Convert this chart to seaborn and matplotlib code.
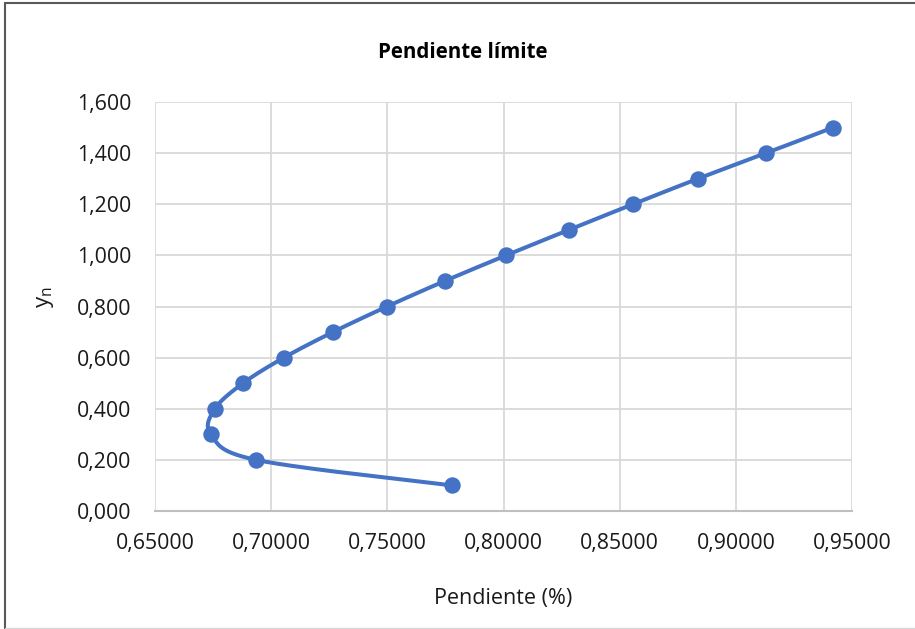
import matplotlib
matplotlib.use("Agg")
import matplotlib.pyplot as plt
import matplotlib.ticker as mticker
from matplotlib.lines import Line2D
import numpy as np
import pandas as pd
import seaborn as sns

# data
yn = [0.1, 0.2, 0.3, 0.4, 0.5, 0.6, 0.7, 0.8, 0.9, 1.0, 1.1, 1.2, 1.3, 1.4, 1.5]
pendiente = [0.7778, 0.6935, 0.6741, 0.6758, 0.6879, 0.7055, 0.7266, 0.7499,
             0.7748, 0.8011, 0.8282, 0.8557, 0.8837, 0.9130, 0.9418]

x_ticks = [0.65, 0.70, 0.75, 0.80, 0.85, 0.90, 0.95]
y_ticks = [0.0, 0.2, 0.4, 0.6, 0.8, 1.0, 1.2, 1.4, 1.6]

BLUE = "#4472C4"

sns.set_theme(style="white")
plt.rcParams["font.family"] = ["Open Sans", "DejaVu Sans"]
plt.rcParams["mathtext.fontset"] = "custom"
plt.rcParams["mathtext.rm"] = "Open Sans"


def excel_smooth(x, y, sx, sy, n=30):
    # Bezier smoothing like Excel's "smoothed line", done in pixel space
    px = np.asarray(x) * sx
    py = np.asarray(y) * sy
    pts = np.column_stack([px, py])
    ext = np.vstack([pts[0], pts, pts[-1]])
    out = []
    t = np.linspace(0, 1, n)[:, None]
    for i in range(len(pts) - 1):
        p0, p1, p2, p3 = ext[i], ext[i + 1], ext[i + 2], ext[i + 3]
        c1 = p1 + (p2 - p0) / 6
        c2 = p2 - (p3 - p1) / 6
        seg = ((1 - t) ** 3) * p1 + 3 * ((1 - t) ** 2) * t * c1 + 3 * (1 - t) * t ** 2 * c2 + t ** 3 * p2
        out.append(seg if i == 0 else seg[1:])
    out = np.vstack(out)
    return out[:, 0] / sx, out[:, 1] / sy


fig = plt.figure(figsize=(9.15, 6.29), dpi=100)
ax = fig.add_axes([155 / 915, 1 - 511 / 629, 697 / 915, 409 / 629])

sx = 697 / 0.30
sy = 409 / 1.6
cx, cy = excel_smooth(pendiente, yn, sx, sy)
curve = pd.DataFrame({"x": cx, "y": cy})
pts = pd.DataFrame({"Pendiente": pendiente, "yn": yn})

sns.lineplot(data=curve, x="x", y="y", sort=False, estimator=None, ax=ax,
             color=BLUE, linewidth=2.9, zorder=3)
sns.scatterplot(data=pts, x="Pendiente", y="yn", ax=ax, color=BLUE, s=140,
                edgecolor=BLUE, linewidth=0, zorder=4)

ax.set_xlim(0.65, 0.95)
ax.set_ylim(0.0, 1.6)
ax.set_xticks(x_ticks)
ax.set_yticks(y_ticks)
ax.xaxis.set_major_formatter(mticker.FuncFormatter(lambda v, p: f"{v:.5f}".replace(".", ",")))
ax.yaxis.set_major_formatter(mticker.FuncFormatter(lambda v, p: f"{v:.3f}".replace(".", ",")))
ax.tick_params(axis="both", length=0, labelsize=15.3, colors="#1a1a1a")
ax.tick_params(axis="x", pad=16)
ax.tick_params(axis="y", pad=17)

ax.grid(True, color="#d9d9d9", linewidth=1.3)
for side in ["top", "right", "left"]:
    ax.spines[side].set_visible(False)
ax.spines["bottom"].set_color("#bfbfbf")
ax.spines["bottom"].set_linewidth(1.5)

ax.set_xlabel("Pendiente (%)", fontsize=15.5, color="#1a1a1a", labelpad=24)
ax.set_ylabel("")
fig.text(45 / 915, 1 - 297 / 629, r"y$_\mathrm{n}$", rotation=90, fontsize=16,
         color="#1a1a1a", ha="center", va="center")
fig.text(463 / 915, 1 - 52 / 629, "Pendiente límite", fontsize=14.8, fontweight="bold",
         color="#000000", ha="center", va="center")

# outer chart border
fig.add_artist(Line2D([5 / 915, 5 / 915], [0, 1 - 3 / 629], transform=fig.transFigure,
                      color="#595959", linewidth=1.5))
fig.add_artist(Line2D([5 / 915, 1], [1 - 3 / 629, 1 - 3 / 629], transform=fig.transFigure,
                      color="#595959", linewidth=1.5))
fig.add_artist(Line2D([5 / 915, 1], [1 / 629, 1 / 629], transform=fig.transFigure,
                      color="#d9d9d9", linewidth=1.0))

fig.savefig("out.png", dpi=100)
plt.close(fig)
